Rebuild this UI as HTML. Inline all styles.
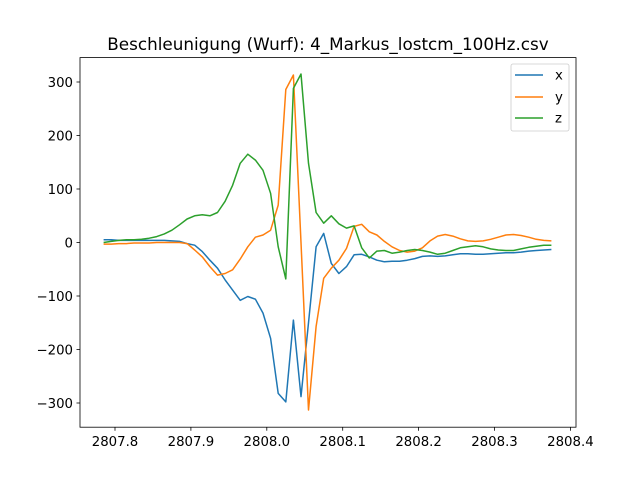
<!DOCTYPE html>
<html><head><meta charset="utf-8"><style>
body{margin:0;background:#fff}
svg text{font-family:"DejaVu Sans","Liberation Sans",sans-serif;fill:#000}
</style></head><body>
<svg id="c" width="640" height="480" viewBox="0 0 640 480">
<rect width="640" height="480" fill="#fff"/>
<text x="328" y="50" font-size="16.8" text-anchor="middle">Beschleunigung (Wurf): 4_Markus_lostcm_100Hz.csv</text>
<g id="plot"></g>
<rect x="80" y="57.6" width="496" height="369.6" fill="none" stroke="#000" stroke-width="0.8"/>
<g id="ticks"></g>
<g>
<rect x="511" y="64" width="58" height="67" rx="2" fill="#fff" fill-opacity="0.8" stroke="#ccc" stroke-width="0.8"/>
<line x1="515" y1="75" x2="543" y2="75" stroke="#1f77b4" stroke-width="1.5"/>
<text x="555" y="79.5" font-size="13.3">x</text>
<line x1="515" y1="97" x2="543" y2="97" stroke="#ff7f0e" stroke-width="1.5"/>
<text x="555" y="101.5" font-size="13.3">y</text>
<line x1="515" y1="118" x2="543" y2="118" stroke="#2ca02c" stroke-width="1.5"/>
<text x="555" y="122.5" font-size="13.3">z</text>
</g>
</svg>
<script>
const t0 = 2807.785, dt = 0.01;
const seriesX = [5,5,4,4,4,4,4,4,4,3,2,-2,-5,-17,-33,-48,-70,-89,-108,-101,-106,-132,-179,-282,-298,-145,-288,-150,-8,17,-39,-58,-45,-23,-22,-27,-33,-36,-35,-35,-33,-30,-26,-25,-26,-25,-23,-21,-21,-22,-22,-21,-20,-19,-19,-18,-16,-15,-14,-13];
const seriesY = [-3,-3,-2,-2,-1,-1,-1,0,0,0,0,-2,-14,-27,-45,-61,-58,-51,-31,-8,10,14,23,70,286,313,0,-313,-157,-67,-48,-33,-11,30,34,20,14,2,-8,-15,-18,-16,-10,3,12,15,12,7,3,2,3,6,10,14,15,13,10,6,4,3];
const seriesZ = [0,2,4,5,5,6,8,11,16,23,33,44,50,52,50,56,77,107,148,165,154,135,92,-8,-68,288,315,148,56,36,50,35,27,31,-10,-29,-16,-15,-20,-18,-15,-13,-15,-18,-22,-20,-15,-10,-8,-6,-8,-12,-14,-15,-15,-12,-9,-7,-5,-5];
const xTicks = [2807.8,2807.9,2808.0,2808.1,2808.2,2808.3,2808.4];
const xTickLabels = ["2807.8","2807.9","2808.0","2808.1","2808.2","2808.3","2808.4"];
const yTicks = [-300,-200,-100,0,100,200,300];
const xs = v => 115 + (v - 2807.8) * 759;
const ys = v => 242.5 - v * 0.535;
const NS = "http://www.w3.org/2000/svg";
const plot = document.getElementById('plot'), ticks = document.getElementById('ticks');
function mk(tag, attrs, parent){const e=document.createElementNS(NS,tag);for(const k in attrs)e.setAttribute(k,attrs[k]);parent.appendChild(e);return e;}
[[seriesX,'#1f77b4','series-x'],[seriesY,'#ff7f0e','series-y'],[seriesZ,'#2ca02c','series-z']].forEach(([d,c,n])=>{
  const pts = d.map((v,i)=>xs(t0+i*dt).toFixed(1)+','+ys(v).toFixed(1)).join(' ');
  const p = mk('polyline',{points:pts,fill:'none',stroke:c,'stroke-width':1.5,'stroke-linejoin':'round'},plot);
  
  
});
xTicks.forEach((v,i)=>{
  const x = xs(v);
  mk('line',{x1:x,y1:427.2,x2:x,y2:430.7,stroke:'#000','stroke-width':0.8},ticks);
  const t = mk('text',{x:x,y:446,'font-size':13.3,'text-anchor':'middle'},ticks);
  t.textContent = xTickLabels[i];
  
  
});
yTicks.forEach(v=>{
  const y = ys(v);
  mk('line',{x1:76.5,y1:y,x2:80,y2:y,stroke:'#000','stroke-width':0.8},ticks);
  const t = mk('text',{x:73,y:y+4.8,'font-size':13.3,'text-anchor':'end'},ticks);
  t.textContent = v < 0 ? '\u2212' + Math.abs(v) : String(v);
  
  
});
</script>
</body></html>
